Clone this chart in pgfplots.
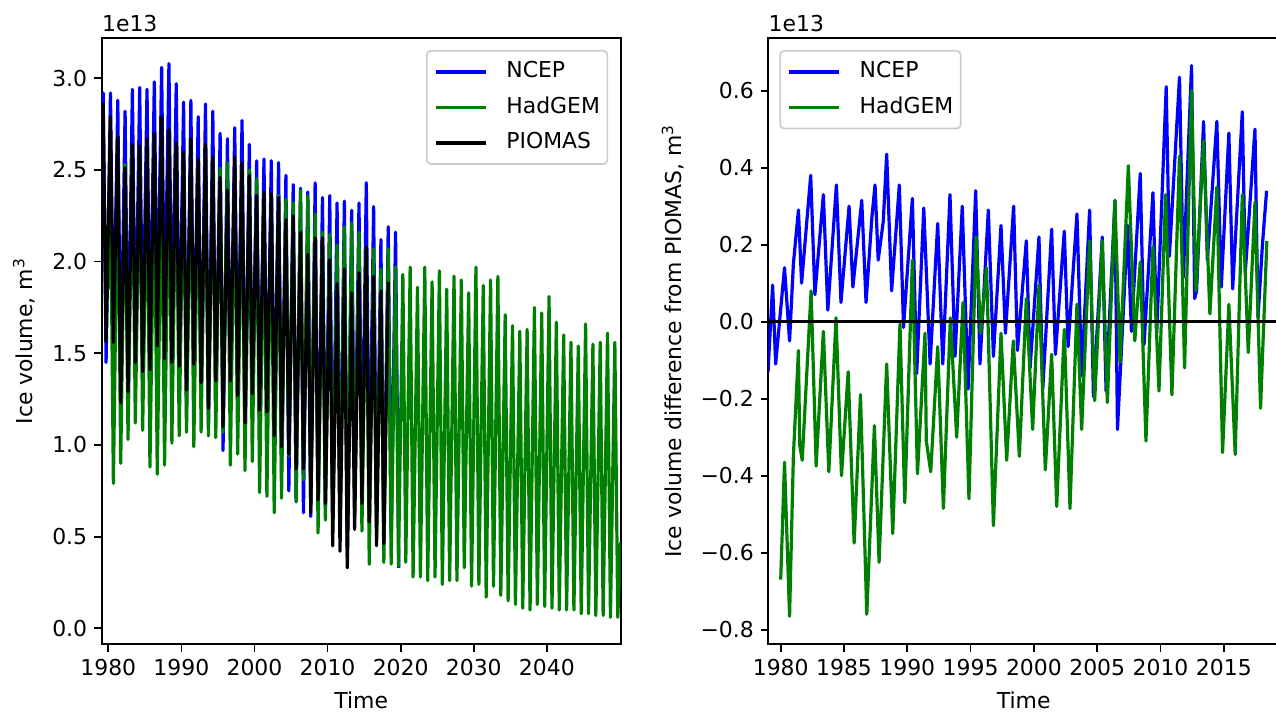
\documentclass[border=0pt]{standalone}
\usepackage{pgfplots}
\pgfplotsset{compat=1.18}
\usepackage{fontspec}
\setmainfont{DejaVu Sans}
\definecolor{mblue}{RGB}{0,0,255}
\definecolor{mgreen}{RGB}{0,128,0}
\newcommand{\ff}{\fontsize{11}{13}\selectfont}
\pgfplotsset{
  mystyle/.style={
    scale only axis, height=303bp,
    anchor=south west,
    axis line style={line width=0.86bp},
    every tick/.style={line width=0.86bp, black},
    major tick length=3.77bp,
    tick align=outside,
    xtick pos=left, ytick pos=left,
    font=\ff,
    tick label style={font=\ff},
    scaled ticks=false,
    clip mode=individual,
    legend cell align=left,
    legend image code/.code={\draw[##1, line width=1.6bp] (0bp,0bp) -- (25bp,0bp);},
    legend style={draw=black!20, line width=0.86bp, rounded corners=2bp, fill=white, fill opacity=0.8, text opacity=1, draw opacity=1,
      inner xsep=3.7bp, inner ysep=5.5bp, row sep=7.65bp, font=\ff,
      nodes={inner sep=0pt, text height=7.9bp, text depth=2.2bp}},
    xlabel style={at={([yshift=-32.3bp]axis description cs:0.5,0)}, anchor=base},
  },
  myline/.style={line width=1.6bp, line join=round, mark=none},
}
\newcommand{\legtxt}[1]{\hspace{9.5bp}#1\hspace{1.5bp}}
\begin{document}
\begin{tikzpicture}
\useasboundingbox (0,0) rectangle (638bp,356.5bp);
% ---------------- left panel ----------------
\begin{axis}[mystyle, at={(50.85bp,34.35bp)}, width=259.5bp,
  xmin=1979.1, xmax=2050.1, ymin=-0.087, ymax=3.218,
  xtick={1980,1990,2000,2010,2020,2030,2040},
  xticklabels={1980,1990,2000,2010,2020,2030,2040},
  ytick={0,0.5,1,1.5,2,2.5,3},
  yticklabels={0.0,0.5,1.0,1.5,2.0,2.5,3.0},
  xlabel={Time}, ylabel={Ice volume, m\textsuperscript{3}},
  ylabel style={at={([xshift=-34.7bp]axis description cs:0,0.5)}, rotate=0, anchor=base},
  legend style={at={(0.976,0.9807)}, anchor=north east},
]
\addplot[myline, mblue] coordinates {
(1979.1,2.75)
(1979.3,2.92)(1979.7,1.45)(1980.3,2.92)(1980.7,1.51)(1981.3,2.88)(1981.7,1.33)
(1982.3,2.82)(1982.7,1.36)(1983.3,2.94)(1983.7,1.48)(1984.3,2.95)(1984.7,1.45)
(1985.3,2.94)(1985.7,1.50)(1986.3,2.98)(1986.7,1.59)(1987.3,3.06)(1987.7,1.63)
(1988.3,3.08)(1988.7,1.53)(1989.3,2.97)(1989.7,1.41)(1990.3,2.87)(1990.7,1.17)
(1991.3,2.88)(1991.7,1.33)(1992.3,2.79)(1992.7,1.23)(1993.3,2.86)(1993.7,1.11)
(1994.3,2.82)(1994.7,1.18)(1995.3,2.70)(1995.7,0.97)(1996.3,2.67)(1996.7,1.26)
(1997.3,2.73)(1997.7,1.24)(1998.3,2.77)(1998.7,1.05)(1999.3,2.64)(1999.7,1.16)
(2000.3,2.55)(2000.7,1.02)(2001.3,2.56)(2001.7,1.10)(2002.3,2.55)(2002.7,0.99)
(2003.3,2.54)(2003.7,0.85)(2004.3,2.47)(2004.7,0.75)(2005.3,2.42)(2005.7,0.69)
(2006.3,2.40)(2006.7,0.63)(2007.3,2.38)(2007.7,0.61)(2008.3,2.43)(2008.7,0.64)
(2009.3,2.35)(2009.7,0.65)(2010.3,2.36)(2010.7,0.62)(2011.3,2.32)(2011.7,0.54)
(2012.3,2.33)(2012.7,0.39)(2013.3,2.28)(2013.7,0.70)(2014.3,2.32)(2014.7,0.77)
(2015.3,2.43)(2015.7,0.67)(2016.3,2.30)(2016.7,0.58)(2017.3,2.12)(2017.7,0.47)
(2018.3,2.19)(2018.7,0.50)(2019.3,2.16)(2019.75,0.33)
};
\addlegendentry{\legtxt{NCEP}}
\addplot[myline, mgreen] coordinates {
(1980.0,1.85)
(1980.3,2.43)(1980.7,0.79)(1981.3,2.58)(1981.7,0.90)(1982.3,2.53)(1982.7,1.03)
(1983.3,2.60)(1983.7,1.12)(1984.3,2.60)(1984.7,1.08)(1985.3,2.54)(1985.7,0.88)
(1986.3,2.51)(1986.7,0.84)(1987.3,2.52)(1987.7,0.89)(1988.3,2.60)(1988.7,1.01)
(1989.3,2.60)(1989.7,1.05)(1990.3,2.57)(1990.7,1.07)(1991.3,2.62)(1991.7,0.99)
(1992.3,2.50)(1992.7,1.07)(1993.3,2.60)(1993.7,1.05)(1994.3,2.57)(1994.7,1.04)
(1995.3,2.51)(1995.7,1.07)(1996.3,2.54)(1996.7,0.89)(1997.3,2.52)(1997.7,0.95)
(1998.3,2.50)(1998.7,0.86)(1999.3,2.50)(1999.7,0.91)(2000.3,2.45)(2000.7,0.74)
(2001.3,2.33)(2001.7,0.72)(2002.3,2.36)(2002.7,0.63)(2003.3,2.36)(2003.7,0.71)
(2004.3,2.34)(2004.7,0.94)(2005.3,2.32)(2005.7,0.69)(2006.3,2.39)(2006.7,0.81)
(2007.3,2.36)(2007.7,0.70)(2008.3,2.26)(2008.7,0.52)(2009.3,2.16)(2009.7,0.59)
(2010.3,2.15)(2010.7,0.55)(2011.3,2.09)(2011.7,0.52)(2012.3,2.19)(2012.7,0.50)
(2013.3,2.21)(2013.7,0.60)(2014.3,2.16)(2014.7,0.53)(2015.3,2.08)(2015.7,0.35)
(2016.3,2.07)(2016.7,0.50)(2017.3,1.96)(2017.7,0.36)(2018.3,2.07)(2018.7,0.35)
(2019.3,1.97)(2019.7,0.34)(2020.3,1.93)(2020.7,0.36)(2021.3,1.97)(2021.7,0.28)
(2022.3,1.86)(2022.7,0.28)(2023.3,1.97)(2023.7,0.26)(2024.3,1.89)(2024.7,0.28)
(2025.3,1.95)(2025.7,0.24)(2026.3,1.85)(2026.7,0.26)(2027.3,1.92)(2027.7,0.26)
(2028.3,1.90)(2028.7,0.33)(2029.3,1.83)(2029.7,0.23)(2030.3,1.97)(2030.7,0.24)
(2031.3,1.87)(2031.7,0.17)(2032.3,1.90)(2032.7,0.23)(2033.3,1.92)(2033.7,0.18)
(2034.3,1.71)(2034.7,0.15)(2035.3,1.65)(2035.7,0.13)(2036.3,1.62)(2036.7,0.11)
(2037.3,1.63)(2037.7,0.10)(2038.3,1.75)(2038.7,0.13)(2039.3,1.72)(2039.7,0.12)
(2040.3,1.81)(2040.7,0.11)(2041.3,1.67)(2041.7,0.10)(2042.3,1.60)(2042.7,0.10)
(2043.3,1.56)(2043.7,0.10)(2044.3,1.54)(2044.7,0.08)(2045.3,1.66)(2045.7,0.08)
(2046.3,1.55)(2046.7,0.07)(2047.3,1.56)(2047.7,0.07)(2048.3,1.61)(2048.7,0.06)
(2049.3,1.56)(2049.7,0.06)(2050.1,0.47)
};
\addlegendentry{\legtxt{HadGEM}}
\addplot[myline, black] coordinates {
(1979.1,2.65)
(1979.3,2.86)(1979.7,1.56)(1980.3,2.79)(1980.7,1.56)(1981.3,2.68)(1981.7,1.23)
(1982.3,2.51)(1982.7,1.29)(1983.3,2.64)(1983.7,1.45)(1984.3,2.63)(1984.7,1.40)
(1985.3,2.67)(1985.7,1.41)(1986.3,2.70)(1986.7,1.54)(1987.3,2.79)(1987.7,1.47)
(1988.3,2.72)(1988.7,1.45)(1989.3,2.65)(1989.7,1.43)(1990.3,2.60)(1990.7,1.30)
(1991.3,2.67)(1991.7,1.44)(1992.3,2.56)(1992.7,1.34)(1993.3,2.64)(1993.7,1.20)
(1994.3,2.57)(1994.7,1.35)(1995.3,2.46)(1995.7,1.10)(1996.3,2.39)(1996.7,1.35)
(1997.3,2.57)(1997.7,1.27)(1998.3,2.54)(1998.7,1.12)(1999.3,2.47)(1999.7,1.28)
(2000.3,2.36)(2000.7,1.19)(2001.3,2.38)(2001.7,1.18)(2002.3,2.37)(2002.7,1.05)
(2003.3,2.35)(2003.7,0.99)(2004.3,2.23)(2004.7,0.95)(2005.3,2.25)(2005.7,0.87)
(2006.3,2.16)(2006.7,0.87)(2007.3,2.04)(2007.7,0.63)(2008.3,2.13)(2008.7,0.70)
(2009.3,2.13)(2009.7,0.68)(2010.3,2.01)(2010.7,0.45)(2011.3,1.88)(2011.7,0.42)
(2012.3,1.96)(2012.7,0.33)(2013.3,1.83)(2013.7,0.54)(2014.3,1.94)(2014.7,0.68)
(2015.3,2.08)(2015.7,0.58)(2016.3,1.92)(2016.7,0.45)(2017.3,1.84)(2017.7,0.46)
(2018.3,1.89)
};
\addlegendentry{\legtxt{PIOMAS}}
\node[anchor=base west, inner sep=0pt, font=\ff] at ([yshift=3.3bp]rel axis cs:0,1) {1e13};
\end{axis}
% ---------------- right panel ----------------
\begin{axis}[mystyle, at={(384.15bp,34.35bp)}, width=255.35bp,
  xmin=1979.02, xmax=2019.36, ymin=-0.838, ymax=0.736,
  xtick={1980,1985,1990,1995,2000,2005,2010,2015},
  xticklabels={1980,1985,1990,1995,2000,2005,2010,2015},
  ytick={-0.8,-0.6,-0.4,-0.2,0,0.2,0.4,0.6},
  yticklabels={−0.8,−0.6,−0.4,−0.2,0.0,0.2,0.4,0.6},
  xlabel={Time}, ylabel={Ice volume difference from PIOMAS, m\textsuperscript{3}},
  ylabel style={at={([xshift=-43.65bp]axis description cs:0,0.5)}, rotate=0, anchor=base},
  legend style={at={(0.0215,0.9807)}, anchor=north west},
]
\addplot[myline, mblue] coordinates {
(1979.0,-0.13)(1979.36,0.095)(1979.6,-0.11)(1980.3,0.14)(1980.7,-0.05)(1981.0,0.15)
(1981.4,0.29)(1981.65,0.10)(1982.37,0.38)(1982.7,0.07)(1983.37,0.33)(1983.72,0.03)
(1984.4,0.355)(1984.76,0.05)(1985.4,0.30)(1985.7,0.09)(1986.4,0.315)(1986.74,0.05)
(1987.2,0.27)(1987.45,0.355)(1987.7,0.16)(1988.1,0.26)(1988.37,0.435)(1988.76,0.08)
(1989.37,0.355)(1989.7,-0.015)(1990.4,0.32)(1990.74,-0.135)(1991.3,0.295)(1991.8,-0.11)
(1992.4,0.255)(1992.8,-0.11)(1993.37,0.33)(1993.77,-0.09)(1994.34,0.30)(1994.8,-0.175)
(1995.4,0.34)(1995.74,-0.11)(1996.4,0.29)(1996.8,-0.09)(1997.4,0.25)(1997.75,-0.03)
(1998.4,0.30)(1998.7,-0.075)(1999.4,0.21)(1999.7,-0.12)(2000.4,0.22)(2000.7,-0.175)
(2001.4,0.24)(2001.7,-0.085)(2002.4,0.235)(2002.7,-0.065)(2003.4,0.28)(2003.77,-0.14)
(2004.4,0.29)(2004.7,-0.195)(2005.4,0.22)(2005.7,-0.18)(2006.4,0.315)(2006.6,-0.28)
(2007.4,0.25)(2007.7,-0.025)(2008.4,0.385)(2008.7,-0.06)(2009.4,0.335)(2009.7,-0.03)
(2010.45,0.61)(2010.7,0.17)(2011.5,0.635)(2011.8,0.115)(2012.45,0.665)(2012.7,0.06)
(2012.85,0.08)(2013.4,0.52)(2013.7,0.16)(2014.45,0.52)(2014.8,0.09)(2015.4,0.49)
(2015.7,0.085)(2016.46,0.545)(2016.7,0.13)(2017.46,0.50)(2017.7,0.01)(2018.05,0.20)
(2018.38,0.34)
};
\addlegendentry{\legtxt{NCEP}}
\addplot[myline, mgreen] coordinates {
(1980.0,-0.67)(1980.3,-0.365)(1980.7,-0.765)(1981.0,-0.35)(1981.4,-0.075)(1981.5,-0.32)
(1981.7,-0.36)(1982.4,0.08)(1982.8,-0.375)(1983.37,-0.025)(1983.8,-0.39)(1984.37,0.01)
(1984.8,-0.40)(1985.33,-0.13)(1985.8,-0.575)(1986.3,-0.19)(1986.8,-0.76)(1987.4,-0.27)
(1987.77,-0.625)(1988.37,-0.11)(1988.85,-0.55)(1989.42,-0.006)(1989.8,-0.47)(1990.4,0.16)
(1990.8,-0.395)(1991.4,-0.03)(1991.5,-0.31)(1991.85,-0.39)(1992.4,-0.065)(1992.85,-0.485)
(1993.4,0.01)(1993.9,-0.30)(1994.4,0.05)(1994.87,-0.46)(1995.43,0.22)(1995.8,-0.03)
(1996.26,0.14)(1996.8,-0.53)(1997.4,-0.03)(1997.85,-0.36)(1998.37,-0.05)(1998.85,-0.35)
(1999.4,0.06)(1999.9,-0.28)(2000.4,0.095)(2000.9,-0.385)(2001.4,-0.085)(2001.8,-0.48)
(2002.4,-0.02)(2002.85,-0.485)(2003.4,0.045)(2003.77,-0.28)(2004.4,0.21)(2004.8,-0.205)
(2005.4,0.21)(2005.8,-0.21)(2006.4,0.315)(2006.8,-0.105)(2007.46,0.405)(2007.97,-0.05)
(2008.4,0.155)(2008.85,-0.31)(2009.4,0.195)(2009.88,-0.18)(2010.4,0.33)(2010.9,-0.19)
(2011.5,0.43)(2011.9,-0.12)(2012.45,0.60)(2012.8,0.08)(2013.4,0.47)(2013.9,0.02)
(2014.45,0.35)(2014.9,-0.34)(2015.4,0.045)(2015.9,-0.345)(2016.46,0.33)(2016.93,-0.08)
(2017.46,0.31)(2017.9,-0.225)(2018.4,0.21)
};
\addlegendentry{\legtxt{HadGEM}}
\addplot[myline, black, forget plot] coordinates {(1979.02,0) (2019.36,0)};
\node[anchor=base west, inner sep=0pt, font=\ff] at ([yshift=3.3bp]rel axis cs:0,1) {1e13};
\end{axis}
\end{tikzpicture}
\end{document}
